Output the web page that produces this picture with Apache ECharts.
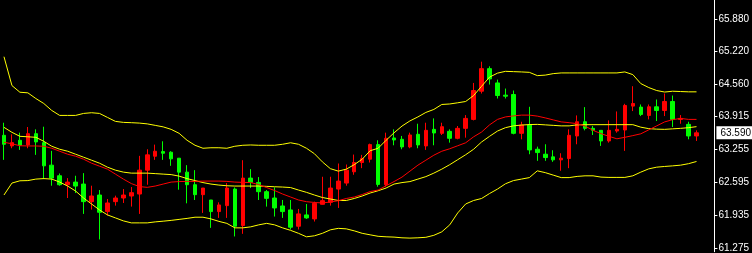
<!DOCTYPE html>
<html>
<head>
<meta charset="utf-8">
<script src="https://cdn.jsdelivr.net/npm/echarts@6/dist/echarts.min.js"></script>
<style>
html,body{margin:0;padding:0;background:#000;}
#chart{width:752px;height:253px;}
</style>
</head>
<body>
<div id="chart"></div>
<script>
// Candles (88 bars, oldest first)
const opens = [63.54,63.327,63.44,63.347,63.573,63.393,62.94,62.727,62.547,62.60,
62.56,62.207,62.34,62.007,62.207,62.28,62.32,62.36,62.84,63.12,
63.213,63.20,63.08,62.80,62.547,62.347,62.24,62.007,62.127,62.46,
61.727,62.68,62.593,62.407,62.28,62.12,62.04,61.713,61.94,61.86,
62.153,62.193,62.46,62.58,62.807,62.993,63.06,63.353,62.547,63.487,
63.46,63.307,63.56,63.327,63.66,63.58,63.62,63.48,63.68,63.86,
64.427,64.88,64.593,64.347,64.36,63.58,63.747,63.26,63.16,63.107,
63.047,63.073,63.527,63.813,63.68,63.64,63.427,63.627,63.647,64.127,
64.107,63.94,64.113,64.04,64.22,63.86,63.76,63.527];
const closes = [63.36,63.393,63.34,63.573,63.407,62.927,62.68,62.547,62.60,62.52,
62.207,62.32,61.993,62.18,62.28,62.34,62.387,62.84,63.147,63.22,
63.18,63.067,62.80,62.547,62.347,62.48,62.007,62.14,62.48,61.713,
62.68,62.593,62.407,62.273,62.08,62.007,61.693,61.96,61.88,62.173,
62.227,62.48,62.62,62.84,62.993,63.073,63.353,62.553,63.48,63.447,
63.307,63.547,63.347,63.64,63.587,63.713,63.48,63.68,63.88,64.44,
64.88,64.673,64.34,64.327,63.58,63.747,63.247,63.193,63.093,63.047,
63.08,63.54,63.813,63.68,63.64,63.427,63.64,63.66,64.14,64.18,
63.96,64.113,64.04,64.22,63.86,63.88,63.527,63.59];
const lows = [63.047,63.28,63.247,63.28,63.147,62.66,62.527,62.527,62.28,62.38,
61.96,62.047,61.447,61.927,62.127,62.18,62.107,61.96,62.547,63.047,
63.047,62.927,62.447,62.173,62.24,61.98,61.68,61.88,61.88,61.507,
61.56,62.48,62.24,62.107,61.907,61.88,61.647,61.647,61.86,61.807,
62.147,62.127,62.08,62.527,62.747,62.88,62.993,62.507,62.507,63.34,
63.26,63.28,63.28,63.247,63.34,63.547,63.393,63.46,63.493,63.84,
64.38,64.56,64.28,64.28,63.56,63.46,63.16,63.027,63.027,63.007,
62.827,62.88,63.36,63.64,63.547,63.327,63.393,63.593,63.227,64.027,
63.927,63.86,63.827,63.927,63.707,63.773,63.46,63.427];
const highs = [63.793,63.56,63.593,63.707,63.66,63.713,63.227,62.773,62.68,62.727,
62.78,62.527,62.44,62.26,62.327,62.46,62.50,63.127,63.26,63.353,
63.42,63.22,63.08,62.94,62.84,62.48,62.24,62.193,62.58,62.493,
63.04,62.86,62.70,62.44,62.493,62.24,62.24,62.06,62.16,62.207,
62.707,62.707,62.973,62.953,63.153,63.147,63.373,63.44,63.593,63.66,
63.527,63.593,63.773,63.793,63.88,63.793,63.66,63.727,63.947,64.593,
65.02,64.927,64.66,64.48,64.44,63.813,64.113,63.313,63.36,63.24,
63.18,63.66,63.94,64.107,63.727,63.64,63.84,64.02,64.173,64.527,
64.16,64.16,64.26,64.38,64.34,63.947,63.813,63.64];

// Indicator lines
const upperBand = [65.12,64.54,64.406,64.394,64.28,64.18,64.04,63.94,63.94,63.94,
63.98,63.994,63.98,63.90,63.82,63.80,63.794,63.786,63.77,63.74,
63.71,63.66,63.58,63.44,63.34,63.28,63.29,63.29,63.28,63.32,
63.34,63.346,63.34,63.34,63.34,63.36,63.39,63.36,63.28,63.17,
63.006,62.87,62.82,62.86,62.95,63.06,63.23,63.28,63.44,63.59,
63.726,63.83,63.91,64.00,64.06,64.16,64.17,64.194,64.22,64.34,
64.526,64.71,64.79,64.826,64.82,64.814,64.806,64.74,64.75,64.78,
64.794,64.794,64.794,64.794,64.794,64.794,64.794,64.794,64.814,64.76,
64.58,64.50,64.44,64.41,64.426,64.42,64.414,64.414];
const middleBand = [63.70,63.60,63.52,63.51,63.50,63.42,63.32,63.26,63.22,63.16,
63.10,63.04,62.98,62.90,62.84,62.80,62.78,62.78,62.78,62.77,
62.76,62.75,62.72,62.67,62.63,62.59,62.56,62.54,62.526,62.52,
62.52,62.52,62.52,62.514,62.506,62.50,62.49,62.44,62.394,62.34,
62.29,62.26,62.23,62.23,62.27,62.32,62.38,62.426,62.48,62.56,
62.59,62.61,62.66,62.71,62.78,62.86,62.95,63.05,63.15,63.26,
63.406,63.52,63.626,63.694,63.73,63.746,63.756,63.76,63.75,63.74,
63.73,63.73,63.75,63.754,63.754,63.754,63.754,63.754,63.754,63.754,
63.704,63.674,63.664,63.66,63.67,63.68,63.694,63.714];
const redMA = [63.40,63.37,63.33,63.326,63.326,63.32,63.28,63.22,63.16,63.12,
63.06,62.98,62.92,62.86,62.76,62.66,62.57,62.51,62.494,62.52,
62.56,62.60,62.61,62.614,62.614,62.62,62.62,62.62,62.614,62.60,
62.594,62.59,62.55,62.49,62.43,62.36,62.30,62.24,62.206,62.19,
62.18,62.20,62.226,62.27,62.30,62.35,62.41,62.44,62.526,62.61,
62.70,62.82,62.94,63.04,63.14,63.22,63.27,63.33,63.39,63.51,
63.606,63.75,63.86,63.91,63.93,63.946,63.946,63.926,63.89,63.85,
63.81,63.794,63.774,63.726,63.64,63.574,63.52,63.47,63.50,63.534,
63.57,63.65,63.73,63.81,63.854,63.88,63.86,63.86];
const lowerBand = [62.34,62.58,62.626,62.63,62.66,62.67,62.66,62.60,62.52,62.42,
62.28,62.16,62.04,61.94,61.88,61.82,61.78,61.78,61.78,61.80,
61.814,61.83,61.85,61.87,61.894,61.894,61.86,61.81,61.77,61.68,
61.68,61.70,61.74,61.77,61.74,61.68,61.63,61.57,61.50,61.52,
61.57,61.64,61.67,61.66,61.62,61.57,61.54,61.51,61.50,61.494,
61.48,61.474,61.48,61.49,61.53,61.60,61.74,61.98,62.16,62.23,
62.27,62.37,62.46,62.566,62.63,62.66,62.69,62.826,62.79,62.74,
62.69,62.69,62.714,62.726,62.726,62.70,62.694,62.694,62.694,62.726,
62.80,62.866,62.90,62.914,62.926,62.94,62.97,63.014];

// Price scale tick labels
const tickLabels = [61.275, 61.935, 62.595, 63.255, 63.915, 64.560, 65.220, 65.880];
const currentPrice = closes[closes.length - 1];

const slotCount = 90; // bars plus right-side shift space
const categories = Array.from({length: slotCount}, (_, i) => 'b' + i);
const candleData = opens.map((o, i) => [o, closes[i], lows[i], highs[i]]);

const chart = echarts.init(document.getElementById('chart'), null, {renderer: 'canvas'});
const lineSeries = (name, data, color) => ({
  name, type: 'line', data, symbol: 'none', silent: true, z: 3,
  lineStyle: {color, width: 1}, animation: false
});
chart.setOption({
  backgroundColor: '#000000',
  animation: false,
  grid: {left: 0, right: 32, top: 0, bottom: 0, containLabel: false},
  xAxis: {type: 'category', data: categories, boundaryGap: true, show: false},
  yAxis: {
    type: 'value', position: 'right', min: 61.20, max: 66.26, offset: -2,
    splitLine: {show: false},
    axisLine: {show: true, lineStyle: {color: '#ffffff', width: 1}},
    axisTick: {show: true, customValues: tickLabels, length: 3, lineStyle: {color: '#ffffff'}},
    axisLabel: {
      show: true, customValues: tickLabels, margin: 4,
      color: '#ffffff', fontFamily: 'Liberation Sans', fontSize: 10,
      formatter: v => Number(v).toFixed(3)
    }
  },
  series: [
    {
      type: 'candlestick', data: candleData, barWidth: 4, z: 2, silent: true,
      itemStyle: {color: '#ff0000', color0: '#00ff00', borderColor: '#ff0000', borderColor0: '#00ff00', borderWidth: 1}
    },
    lineSeries('upper', upperBand, '#ffff00'),
    lineSeries('middle', middleBand, '#ffff00'),
    lineSeries('ma', redMA, '#ff0000'),
    lineSeries('lower', lowerBand, '#ffff00'),
    {
      type: 'line', data: [], silent: true, z: 10,
      markLine: {
        silent: true, symbol: 'none', animation: false,
        lineStyle: {color: 'rgba(0,0,0,0)', width: 1, type: 'solid'},
        data: [{yAxis: currentPrice}],
        label: {
          show: true, position: 'end', distance: 0,
          formatter: () => currentPrice.toFixed(3),
          backgroundColor: '#ffffff', color: '#000000', opacity: 1,
          fontFamily: 'Liberation Sans', fontSize: 10, padding: [2, 3, 1, 4]
        }
      }
    }
  ]
});
</script>
</body>
</html>
